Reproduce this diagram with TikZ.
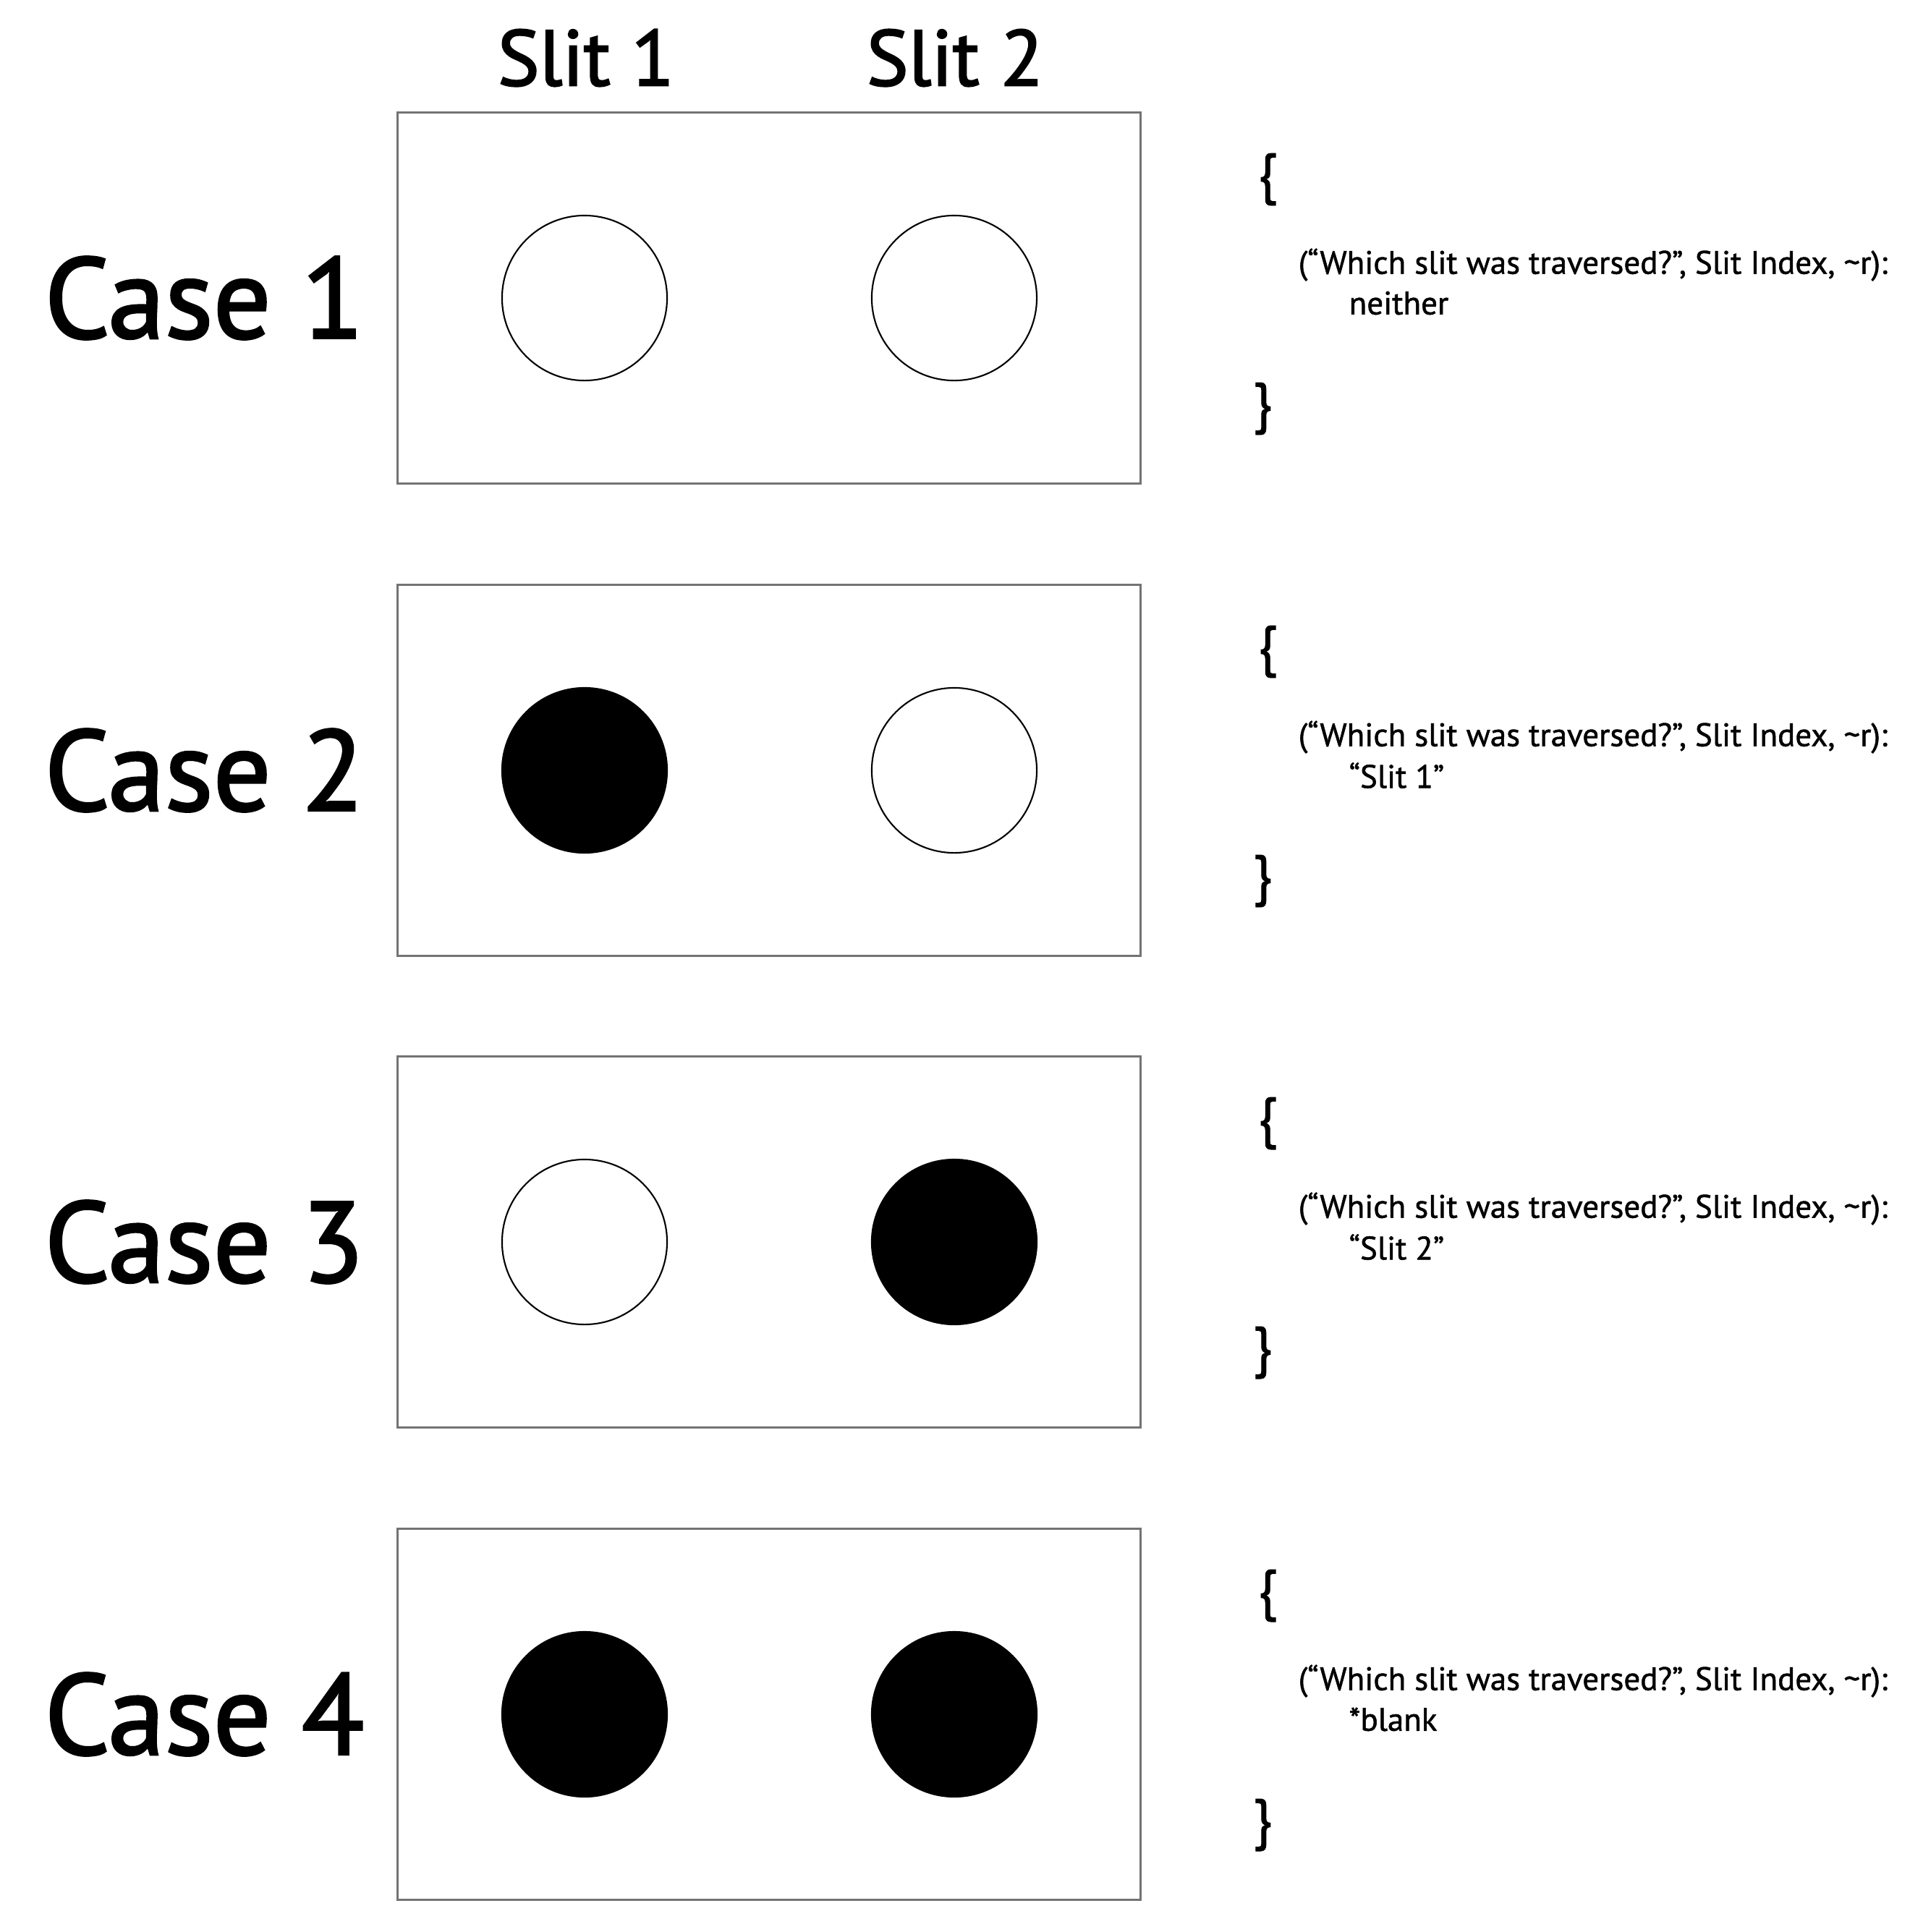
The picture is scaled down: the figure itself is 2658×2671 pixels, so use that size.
\documentclass[tikz,border=0pt]{standalone}
\usepackage{fontspec}
\setmainfont{PT Sans}
\newfontfamily\medfont{PT Sans}[FakeBold=2]
\newfontfamily\smallmed{PT Sans}[FakeBold=1.2]
\begin{document}
\begin{tikzpicture}[x=0.01cm,y=-0.01cm,
  panel/.style={draw=black!55,line width=0.9pt,minimum width=10.26cm,minimum height=5.13cm,inner sep=0pt},
  hole/.style={circle,draw=black,line width=0.6pt,minimum size=2.28cm,inner sep=0pt},
  shut/.style={hole,fill=black},
  caselbl/.style={anchor=east,font=\medfont\fontsize{45}{54}\selectfont,inner sep=0pt},
  slitlbl/.style={font=\medfont\fontsize{31}{36}\selectfont,inner sep=0pt},
  brace/.style={font=\smallmed\fontsize{22}{26}\selectfont,inner sep=0pt},
  qtext/.style={anchor=west,font=\smallmed\fontsize{12.8}{14}\selectfont,inner sep=0pt}]
\useasboundingbox (0,0) rectangle (2658,2671);
\node[slitlbl] (s1) at (810,80) {Slit 1};
\node[slitlbl] (s2) at (1320,80) {Slit 2};
\foreach \i/\y/\sa/\sb/\ans in {1/412/hole/hole/{neither},2/1065/shut/hole/{“Slit 1”},3/1717/hole/shut/{“Slit 2”},4/2370/shut/shut/{*blank}}{
  \node[panel] (box\i) at (1063,\y) {};
  \node[\sa] (h\i a) at (808,\y) {};
  \node[\sb] (h\i b) at (1319,\y) {};
  \node[caselbl] (case\i) at (504,\y) {Case \i};
  \node[brace] (ob\i) at (1752,\y-164) {\{};
  \node[qtext] (q\i) at (1794,\y-46) {(“Which slit was traversed?”, Slit Index, \textasciitilde r):};
  \node[qtext] (a\i) at (1864,\y+7) {\ans};
  \node[brace] (cb\i) at (1745,\y+153) {\}};
}
\end{tikzpicture}
\end{document}
